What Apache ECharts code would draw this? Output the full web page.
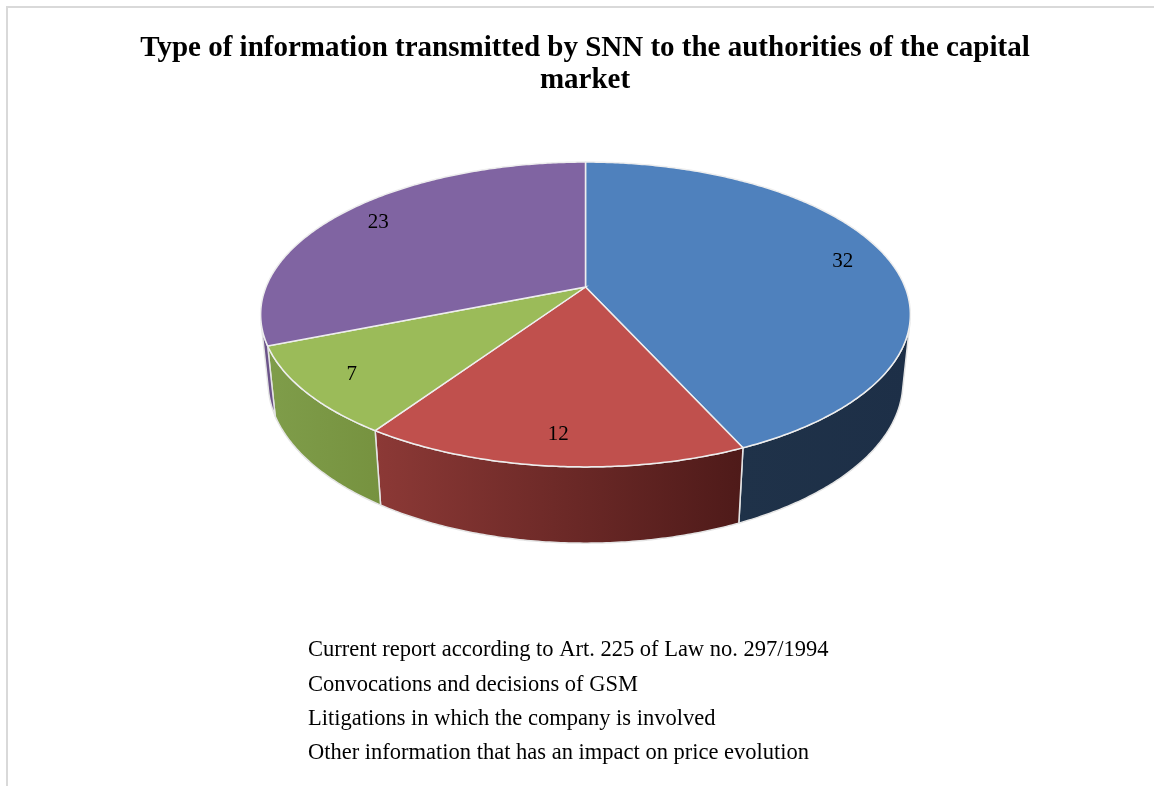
<!DOCTYPE html>
<html>
<head>
<meta charset="utf-8">
<title>Type of information transmitted by SNN</title>
<script src="https://cdn.jsdelivr.net/npm/echarts@6/dist/echarts.min.js"></script>
<style>
  html, body { margin: 0; padding: 0; background: #fff; }
  #chart { width: 1154px; height: 786px; }
</style>
</head>
<body>
<div id="chart"></div>
<script>
// chart data
const categories = [
    'Current report according to Art. 225 of Law no. 297/1994',
    'Convocations and decisions of GSM',
    'Litigations in which the company is involved',
    'Other information that has an impact on price evolution'
];
const values = [32, 12, 7, 23];

// slice colours: top face, and wall gradient (left -> right)
const topColors = ['#4F81BD', '#C0504D', '#9BBB59', '#8064A2'];
const wallColors = [
    ['#1F3249', '#1D2F47'],
    ['#8C3936', '#4E1A19'],
    ['#7F9D4A', '#76923F'],
    ['#6C548A', '#6A5288']
];

// perspective camera for the tilted pie
const CX = 585.5, CY = 287, S = 1572, D = 4.92;
const SIN_A = 0.4615, COS_A = 0.887, H = 0.241;
const VIS_LO = Math.acos(-1 / (D * COS_A));
const VIS_HI = 2 * Math.PI - VIS_LO;

function project(theta, r, z) {
    const x = r * Math.sin(theta), y = -r * Math.cos(theta);
    const d = D - (y * COS_A + z * SIN_A);
    return [CX + S * x / d, CY + S * (y * SIN_A - z * COS_A) / d];
}

function arc(a0, a1, z) {
    const pts = [];
    const n = Math.max(2, Math.ceil((a1 - a0) / 0.01));
    for (let k = 0; k <= n; k++) {
        pts.push(project(a0 + (a1 - a0) * k / n, 1, z));
    }
    return pts;
}

const total = values.reduce((a, b) => a + b, 0);

function renderSlice(idx) {
    return function (params, api) {
        let start = 0;
        for (let j = 0; j < idx; j++) start += values[j];
        const a0 = start / total * 2 * Math.PI;
        const a1 = (start + api.value(0)) / total * 2 * Math.PI;
        const children = [];

        // outer wall, only the part facing the camera
        const w0 = Math.max(a0, VIS_LO), w1 = Math.min(a1, VIS_HI);
        if (w1 > w0) {
            const pts = arc(w0, w1, 0).concat(arc(w0, w1, -H).reverse());
            children.push({
                type: 'polygon',
                shape: { points: pts },
                style: {
                    fill: new echarts.graphic.LinearGradient(0, 0, 1, 0, [
                        { offset: 0, color: wallColors[idx][0] },
                        { offset: 1, color: wallColors[idx][1] }
                    ]),
                    stroke: '#E4E4E4',
                    lineWidth: 1.5
                }
            });
        }

        // top face
        children.push({
            type: 'polygon',
            shape: { points: [[CX, CY]].concat(arc(a0, a1, 0)) },
            style: { fill: topColors[idx], stroke: '#EEEEEE', lineWidth: 1.5 }
        });

        // value label
        const lp = project((a0 + a1) / 2, 0.85, 0);
        children.push({
            type: 'text',
            x: lp[0], y: lp[1],
            style: {
                text: String(api.value(0)),
                fill: '#000',
                font: '21px "Liberation Serif"',
                align: 'center',
                verticalAlign: 'middle'
            }
        });
        return { type: 'group', children: children };
    };
}

var chart = echarts.init(document.getElementById('chart'), null, { renderer: 'canvas' });

option = {
    animation: false,
    title: {
        text: 'Type of information transmitted by SNN to the authorities of the capital\nmarket',
        left: 580,
        top: 28,
        textAlign: 'center',
        padding: 5,
        textStyle: {
            fontFamily: 'Liberation Serif',
            fontWeight: 'bold',
            fontSize: 29,
            lineHeight: 32,
            color: '#000'
        }
    },
    legend: {
        data: categories,
        orient: 'vertical',
        left: 298,
        top: 634,
        icon: 'none',
        itemWidth: 0,
        itemHeight: 22,
        itemGap: 11.3,
        selectedMode: false,
        textStyle: {
            fontFamily: 'Liberation Serif',
            fontSize: 22.5,
            lineHeight: 22,
            color: '#000'
        }
    },
    graphic: [{
        type: 'rect',
        silent: true,
        shape: { x: 7, y: 7, width: 1300, height: 900 },
        style: { fill: 'none', stroke: '#D9D9D9', lineWidth: 2 }
    }],
    series: categories.map(function (name, i) {
        return {
            name: name,
            type: 'custom',
            coordinateSystem: 'none',
            renderItem: renderSlice(i),
            itemStyle: { color: topColors[i] },
            data: [values[i]]
        };
    })
};

chart.setOption(option);

window.onresize = function () {
    chart.resize();
};
</script>
</body>
</html>
